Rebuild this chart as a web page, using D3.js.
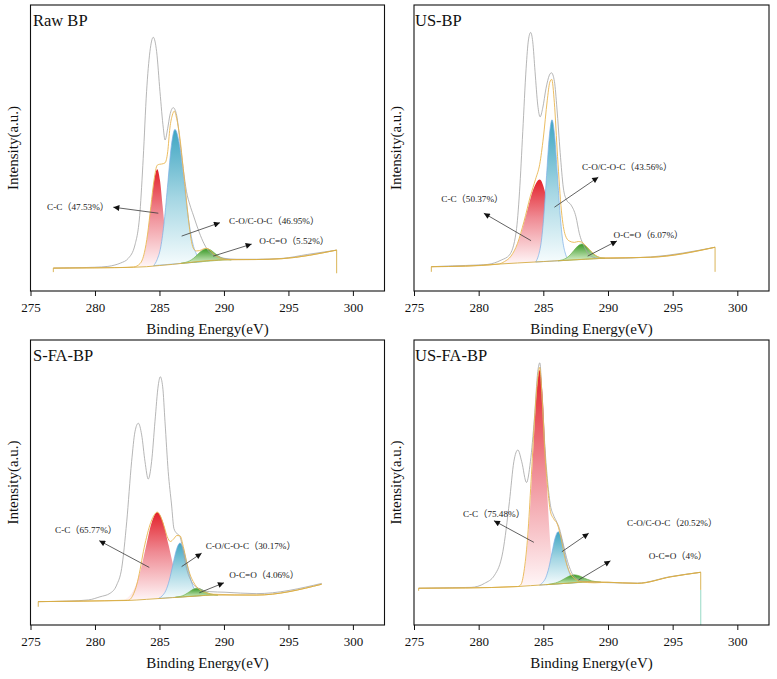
<!DOCTYPE html>
<html><head><meta charset="utf-8">
<script src="https://cdn.jsdelivr.net/npm/d3@7"></script>
<style>
body{margin:0;background:#fff}
svg{display:block}
text{font-family:"Liberation Serif","Times New Roman","Noto Sans CJK SC",serif}
</style>
</head><body>
<svg id="chart" width="777" height="679"></svg>
<script>
// ---------------- DATA ----------------
const xTicks = [275, 280, 285, 290, 295, 300];
const panelTitles = ["Raw BP", "US-BP", "S-FA-BP", "US-FA-BP"];
const xAxisTitle = "Binding Energy(eV)";
const yAxisTitle = "Intensity(a.u.)";

// Panel 1: Raw BP  ([eV, intensity])
const rawP1 = [[276.77,8.0],[278,8.1],[280,8.3],[281,8.6],[281.55,9.1],[282.0,9.8],[282.58,11.4],[283.1,16.1],[283.49,27.7],[283.74,46.4],[284.0,69.7],[284.26,83.7],[284.52,88.7],[284.78,83.7],[285.04,69.7],[285.3,56.9],[285.43,52.8],[285.64,56.9],[285.81,61.5],[286.07,64.1],[286.33,61.5],[286.59,52.2],[286.84,42.9],[287.1,34.7],[287.36,30.1],[287.62,26.6],[287.88,23.1],[288.27,18.4],[288.66,14.9],[289.17,12.6],[290.08,11.4],[291,11.1],[292.5,11.1],[294.5,11.4],[296.5,12.8],[298.74,14.3]];
const envP1 = [[276.77,8.0],[280,8.1],[282,8.2],[283,8.4],[283.5,9.6],[283.83,13.4],[284.08,19.9],[284.33,29.5],[284.58,38.8],[284.83,44.0],[285.0,44.3],[285.17,44.4],[285.43,44.8],[285.64,48.7],[285.81,57.0],[286.0,61.5],[286.15,62.9],[286.33,60.4],[286.59,53.4],[286.84,42.9],[287.05,33.6],[287.24,25.4],[287.44,18.4],[287.62,15.0],[287.85,14.0],[288.1,14.1],[288.4,14.7],[288.62,14.9],[288.9,14.4],[289.17,13.0],[289.5,12.0],[289.82,11.3],[290.3,11.0],[292.5,11.0],[294.5,11.3],[298.74,14.3]];
const baseP1 = [[276.77,8.0],[280,8.1],[283,8.3],[284,8.5],[285,8.9],[286,9.3],[287,9.8],[288,10.3],[289,10.7],[290,10.9],[292.5,11.0],[294.5,11.3],[298.74,14.3]];
const edgesP1 = [[276.77,8.0,6.6],[298.74,14.3,6.2]];
// fitted components [eV, top, bottom]
const ccP1 = [[283.33,8.42,8.42],[283.58,9.99,8.51],[283.83,13.15,8.61],[284.08,19.62,8.7],[284.33,29.19,8.79],[284.58,38.49,8.89],[284.83,42.6,8.98],[285.04,38.7,9.05],[285.25,29.5,9.13],[285.46,20.1,9.21],[285.67,13.8,9.29],[285.88,10.9,9.37],[286.09,9.44,9.44]];
const coP1 = [[284.55,8.87,8.87],[284.825,11.05,8.98],[285.1,15.4,9.08],[285.375,24.5,9.18],[285.65,37.8,9.28],[285.925,50.9,9.38],[286.2,56.5,9.48],[286.55,51.1,9.6],[286.9,38.3,9.75],[287.25,25.2,9.87],[287.6,16.35,10.0],[287.95,12.2,10.13],[288.3,10.26,10.26]];
const ocoP1 = [[286.67,9.66,9.66],[286.995,9.97,9.78],[287.32,10.49,9.9],[287.645,11.45,10.02],[287.97,12.81,10.14],[288.295,14.14,10.26],[288.62,14.78,10.38],[288.945,14.38,10.5],[289.27,13.29,10.62],[289.595,12.17,10.74],[289.92,11.44,10.85],[290.245,11.09,10.9],[290.57,10.9,10.9]];
const labelsP1 = ["C-C（47.53%）", "C-O/C-O-C（46.95%）", "O-C=O（5.52%）"];
const labelAtP1 = [[276.28,28.3],[290.4,23.6],[292.74,16.6]];
const arrowFromP1 = [[284.91,27.2],[286.72,19.2],[289.17,12.2]];
const arrowToP1 = [[281.42,29.3],[289.69,23.9],[292.15,16.4]];

// Panel 2: US-BP
const rawP2 = [[276.34,8.5],[278,8.8],[280,9.1],[280.71,9.3],[281.74,10.8],[282.38,12.6],[282.9,20.7],[283.16,34.7],[283.41,55.7],[283.67,77.9],[283.85,87.8],[284.02,90.4],[284.18,87.2],[284.36,76.7],[284.57,65.0],[284.75,60.9],[284.95,63.9],[285.21,70.9],[285.47,75.5],[285.63,76.3],[285.86,73.2],[286.05,64.0],[286.3,48.5],[286.55,36.0],[286.8,31.8],[287.14,30.1],[287.52,26.0],[287.78,20.2],[288.17,15.5],[288.6,12.4],[289.2,11.5],[290.22,11.4],[293.3,11.9],[298.28,15.3]];
const envP2 = [[276.34,8.5],[279,8.7],[281.5,9.4],[282.0,10.3],[282.5,12.2],[283.0,16.6],[283.5,24.2],[284.0,33.2],[284.4,39.1],[284.72,44.3],[285.0,53.5],[285.3,66.5],[285.5,73.0],[285.65,74.0],[285.85,66.0],[286.1,47.0],[286.4,28.0],[286.7,19.5],[287.0,17.5],[287.4,17.0],[287.7,17.3],[287.96,17.1],[288.4,15.2],[289.0,12.6],[289.5,11.6],[293.3,11.8],[298.28,15.3]];
const baseP2 = [[276.34,8.5],[279,8.7],[281.5,9.4],[283,9.8],[285,10.3],[287,10.8],[289.45,11.4],[293.3,11.8],[298.28,15.3]];
const edgesP2 = [[276.34,8.5,6.7],[298.28,15.3,6.7]];
const ccP2 = [[281.72,9.46,9.46],[282.22,10.85,9.58],[282.72,13.6,9.71],[283.22,19.19,9.83],[283.72,27.44,9.96],[284.22,35.48,10.08],[284.72,39.0,10.2],[285.07,35.69,10.29],[285.42,27.86,10.38],[285.77,19.83,10.47],[286.12,14.45,10.56],[286.47,11.91,10.64],[286.82,10.73,10.73]];
const coP2 = [[284.41,10.13,10.13],[284.62,12.35,10.18],[284.83,16.9,10.23],[285.04,26.35,10.29],[285.25,40.33,10.34],[285.46,53.96,10.39],[285.67,59.84,10.44],[285.88,54.07,10.5],[286.09,40.54,10.55],[286.3,26.66,10.6],[286.51,17.32,10.65],[286.72,12.88,10.71],[286.93,10.76,10.76]];
const ocoP2 = [[286.16,10.57,10.57],[286.46,10.88,10.64],[286.76,11.45,10.72],[287.06,12.55,10.79],[287.36,14.15,10.87],[287.66,15.7,10.94],[287.96,16.42,11.02],[288.26,15.85,11.09],[288.56,14.45,11.17],[288.86,13.0,11.24],[289.16,12.05,11.32],[289.46,11.64,11.4],[289.76,11.42,11.42]];
const labelsP2 = ["C-C（50.37%）", "C-O/C-O-C（43.56%）", "O-C=O（6.07%）"];
const labelAtP2 = [[277.11,31.1],[287.99,42.3],[290.43,18.7]];
const arrowFromP2 = [[284.05,17.6],[285.86,29.3],[288.43,12.2]];
const arrowToP2 = [[280.4,27.2],[289.25,39.8],[290.69,17.5]];

// Panel 3: S-FA-BP
const rawP3 = [[275.6,8.2],[278,8.4],[279.5,8.8],[280.39,9.9],[281.16,11.1],[281.68,14.0],[282.07,19.9],[282.46,36.2],[282.84,57.3],[283.1,67.8],[283.36,70.8],[283.62,66.7],[283.88,57.3],[284.13,51.2],[284.39,57.3],[284.65,71.3],[284.91,84.2],[285.06,87.1],[285.25,83.6],[285.43,71.3],[285.68,53.8],[285.94,42.1],[286.12,33.9],[286.33,32.2],[286.59,31.0],[286.84,25.7],[287.1,19.9],[287.49,15.2],[288.0,12.9],[288.91,11.7],[290.08,11.5],[292.5,11.0],[297.58,14.6]];
const envP3 = [[275.6,8.2],[282.58,8.7],[283.0,11.0],[283.23,14.0],[283.5,19.5],[283.75,25.7],[284.0,30.8],[284.26,35.1],[284.55,38.3],[284.83,39.6],[285.1,38.0],[285.4,34.0],[285.6,31.0],[285.85,29.3],[286.1,30.2],[286.35,31.4],[286.59,31.3],[286.85,27.5],[287.1,22.2],[287.35,18.0],[287.62,15.2],[288.14,12.3],[288.6,11.3],[289.17,10.8],[292.5,10.5],[297.58,14.3]];
const baseP3 = [[275.6,8.2],[279,8.4],[282.5,8.6],[284,9.0],[286,9.6],[288,10.2],[289.17,10.5],[292.5,10.5],[297.58,14.3]];
const edgesP3 = [[275.6,8.2,6.4]];
const ccP3 = [[282.19,8.6,8.6],[282.63,9.97,8.64],[283.07,12.86,8.77],[283.51,18.75,8.9],[283.95,27.43,9.04],[284.39,35.89,9.17],[284.83,39.6,9.3],[285.27,36.15,9.43],[285.71,27.95,9.56],[286.15,19.55,9.7],[286.59,13.92,9.83],[287.03,11.29,9.96],[287.47,10.09,10.09]];
const coP3 = [[284.94,9.33,9.33],[285.215,10.24,9.41],[285.49,12.05,9.5],[285.765,15.72,9.58],[286.04,21.13,9.66],[286.315,26.41,9.74],[286.59,28.73,9.83],[286.865,26.58,9.91],[287.14,21.46,9.99],[287.415,16.21,10.07],[287.69,12.71,10.16],[287.965,11.07,10.24],[288.24,10.32,10.32]];
const ocoP3 = [[286.23,9.72,9.72],[286.505,9.92,9.8],[286.78,10.24,9.88],[287.055,10.85,9.97],[287.33,11.69,10.05],[287.605,12.51,10.13],[287.88,12.91,10.21],[288.155,12.68,10.3],[288.43,12.02,10.38],[288.705,11.34,10.46],[288.98,10.86,10.5],[289.255,10.62,10.5],[289.53,10.5,10.5]];
const labelsP3 = ["C-C（65.77%）", "C-O/C-O-C（30.17%）", "O-C=O（4.06%）"];
const labelAtP3 = [[276.9,32.3],[288.58,26.7],[290.41,16.5]];
const arrowFromP3 = [[284.21,20.2],[286.72,20.5],[288.09,11.3]];
const arrowToP3 = [[280.33,29.6],[288.27,25.2],[290.0,14.8]];

// Panel 4: US-FA-BP
const rawP4 = [[275.36,12.9],[278,13.1],[279.42,13.2],[280.45,14.6],[281.23,17.5],[281.87,25.7],[282.38,43.3],[282.72,57.3],[283.03,61.4],[283.33,57.3],[283.7,50.0],[284.0,57.3],[284.31,72.5],[284.57,88.9],[284.73,92.0],[284.9,80.5],[285.13,62.0],[285.34,50.0],[285.55,42.0],[285.78,38.6],[286.0,36.5],[286.24,33.9],[286.5,29.2],[286.88,22.2],[287.4,16.9],[288.17,15.2],[289.72,14.9],[292.28,14.7],[294.85,17.0],[297.17,18.5]];
const envP4 = [[275.36,12.9],[279,13.0],[283.03,13.5],[283.28,14.3],[283.54,19.9],[283.8,31.6],[284.05,50.3],[284.31,71.3],[284.57,86.6],[284.72,90.4],[284.9,80.0],[285.13,59.6],[285.34,48.0],[285.55,39.8],[285.78,37.4],[286.11,35.1],[286.37,30.4],[286.68,23.4],[287.01,18.7],[287.4,16.4],[287.91,15.2],[288.94,14.8],[290,15.0],[292.28,14.6],[294.85,16.9],[297.17,18.5]];
const baseP4 = [[275.36,12.9],[279,13.0],[283.03,13.5],[284,13.8],[285,14.1],[286,14.4],[287,14.7],[288.4,15.2],[290,15.0],[292.28,14.6],[294.85,16.9],[297.17,18.5]];
const edgesP4 = [[275.36,12.9,12.0],[297.17,18.5,12.3]];
const dropP4 = [[297.17,12.3,0]];
const ccP4 = [[283.16,13.54,13.54],[283.42,16.94,13.62],[283.68,23.89,13.7],[283.94,38.31,13.77],[284.2,59.68,13.85],[284.46,80.52,13.93],[284.72,89.5,14.0],[284.945,80.66,14.07],[285.17,59.97,14.14],[285.395,38.74,14.2],[285.62,24.46,14.27],[285.845,17.66,14.34],[286.07,14.41,14.41]];
const coP4 = [[284.71,14.0,14.0],[284.95,14.89,14.08],[285.19,16.62,14.15],[285.43,20.17,14.22],[285.67,25.4,14.29],[285.91,30.5,14.36],[286.15,32.74,14.44],[286.39,30.65,14.51],[286.63,25.69,14.58],[286.87,20.6,14.65],[287.11,17.19,14.72],[287.35,15.61,14.8],[287.59,14.87,14.87]];
const ocoP4 = [[285.25,14.17,14.17],[285.6,14.39,14.27],[285.95,14.76,14.38],[286.3,15.39,14.48],[286.65,16.29,14.59],[287.0,17.16,14.69],[287.35,17.6,14.8],[287.7,17.37,14.9],[288.05,16.71,15.01],[288.4,16.02,15.11],[288.75,15.48,15.1],[289.1,15.17,15.05],[289.45,15.0,15.0]];
const labelsP4 = ["C-C（75.48%）", "C-O/C-O-C（20.52%）", "O-C=O（4%）"];
const labelAtP4 = [[278.78,37.9],[291.47,34.6],[293.15,23.2]];
const arrowFromP4 = [[284.27,29.0],[286.43,25.7],[287.72,15.8]];
const arrowToP4 = [[281.18,36.6],[288.51,32.2],[290.19,22.5]];

// ---------------- LAYOUT / STYLE ----------------
const boxes = [
  {l:30.5, r:384.5, t:5,   b:291, ylx:18},
  {l:414,  r:769,   t:5,   b:291, ylx:401},
  {l:30.5, r:384.5, t:340, b:625, ylx:18},
  {l:414,  r:769,   t:340, b:625, ylx:401}
];
const panels = [
  {raw:rawP1, env:envP1, base:baseP1, edges:edgesP1, drop:[], peaks:[ccP1,coP1,ocoP1], labels:labelsP1, at:labelAtP1, from:arrowFromP1, to:arrowToP1},
  {raw:rawP2, env:envP2, base:baseP2, edges:edgesP2, drop:[], peaks:[ccP2,coP2,ocoP2], labels:labelsP2, at:labelAtP2, from:arrowFromP2, to:arrowToP2},
  {raw:rawP3, env:envP3, base:baseP3, edges:edgesP3, drop:[], peaks:[ccP3,coP3,ocoP3], labels:labelsP3, at:labelAtP3, from:arrowFromP3, to:arrowToP3},
  {raw:rawP4, env:envP4, base:baseP4, edges:edgesP4, drop:dropP4, peaks:[ccP4,coP4,ocoP4], labels:labelsP4, at:labelAtP4, from:arrowFromP4, to:arrowToP4}
];
const peakStyles = [
  {id:"gRed",   stops:[[0,"#e3212a"],[0.45,"#ef8a93"],[1,"#fff6f7"]], stroke:"none"},
  {id:"gBlue",  stops:[[0,"#3ea5c2"],[0.5,"#a4d6e3"],[1,"#f6fcfd"]], stroke:"#7aaee6"},
  {id:"gGreen", stops:[[0,"#3a9a28"],[1,"#d8efca"]], stroke:"#72b552"}
];

const svg = d3.select("#chart");
const defs = svg.append("defs");
peakStyles.forEach(s => {
  const g = defs.append("linearGradient").attr("id", s.id)
    .attr("x1",0).attr("y1",0).attr("x2",0).attr("y2",1);
  s.stops.forEach(st => g.append("stop").attr("offset", st[0]).attr("stop-color", st[1]));
});
defs.append("marker").attr("id","arrowHead")
  .attr("viewBox","0 0 10 10").attr("refX",10).attr("refY",5)
  .attr("markerWidth",8).attr("markerHeight",6).attr("markerUnits","userSpaceOnUse")
  .attr("orient","auto")
  .append("path").attr("d","M0,0 L10,5 L0,10 Z").attr("fill","#111");

panels.forEach((p, i) => {
  const bx = boxes[i];
  const x = d3.scaleLinear().domain([275, 302.45]).range([bx.l, bx.r]);
  const y = d3.scaleLinear().domain([0, 100]).range([bx.b, bx.t]);
  const g = svg.append("g");

  g.append("rect").attr("x", bx.l).attr("y", bx.t)
    .attr("width", bx.r - bx.l).attr("height", bx.b - bx.t).attr("fill", "#fff");

  // component fills
  const area = d3.area().x(d => x(d[0])).y0(d => y(d[2])).y1(d => y(d[1])).curve(d3.curveMonotoneX);
  p.peaks.forEach((pk, k) => {
    g.append("path").datum(pk).attr("d", area)
      .attr("fill", `url(#${peakStyles[k].id})`)
      .attr("stroke", peakStyles[k].stroke).attr("stroke-width", 0.7);
  });

  const line = d3.line().x(d => x(d[0])).y(d => y(d[1])).curve(d3.curveMonotoneX);
  g.append("path").datum(p.raw).attr("d", line)
    .attr("fill","none").attr("stroke","#a3a3a3").attr("stroke-width",0.8);
  g.append("path").datum(p.env).attr("d", line)
    .attr("fill","none").attr("stroke","#e9b650").attr("stroke-width",0.9);
  g.append("path").datum(p.base).attr("d", line)
    .attr("fill","none").attr("stroke","#d6ad45").attr("stroke-width",0.9);
  p.edges.forEach(e => {
    g.append("line").attr("x1", x(e[0])).attr("x2", x(e[0]))
      .attr("y1", y(e[1])).attr("y2", y(e[2]))
      .attr("stroke","#d6ad45").attr("stroke-width",0.9);
  });
  p.drop.forEach(e => {
    g.append("line").attr("x1", x(e[0])).attr("x2", x(e[0]))
      .attr("y1", y(e[1])).attr("y2", y(e[2]))
      .attr("stroke","#a9e0cf").attr("stroke-width",1.2);
  });

  // annotations
  p.labels.forEach((lab, k) => {
    g.append("line")
      .attr("x1", x(p.from[k][0])).attr("y1", y(p.from[k][1]))
      .attr("x2", x(p.to[k][0])).attr("y2", y(p.to[k][1]))
      .attr("stroke","#3a3a3a").attr("stroke-width",0.8)
      .attr("marker-end","url(#arrowHead)");
    g.append("text").attr("x", x(p.at[k][0])).attr("y", y(p.at[k][1]))
      .attr("font-size", 9.2).attr("fill","#222").text(lab);
  });

  // frame
  g.append("rect").attr("x", bx.l).attr("y", bx.t)
    .attr("width", bx.r - bx.l).attr("height", bx.b - bx.t)
    .attr("fill","none").attr("stroke","#111").attr("stroke-width",1.1);

  // x axis
  const ax = g.append("g").attr("transform", `translate(0,${bx.b})`)
    .call(d3.axisBottom(x).tickValues(xTicks).tickSize(5).tickPadding(7).tickFormat(d3.format("d")));
  ax.attr("font-family", null);
  ax.select(".domain").remove();
  ax.selectAll(".tick line").attr("stroke","#111").attr("stroke-width",1);
  ax.selectAll(".tick text").attr("font-size",13).attr("fill","#111")
    .style("font-family",'"Liberation Serif","Times New Roman",serif');

  g.append("text").attr("x", (bx.l + bx.r) / 2).attr("y", bx.b + 43)
    .attr("text-anchor","middle").attr("font-size",15).attr("fill","#111").text(xAxisTitle);

  g.append("text").attr("transform", `translate(${bx.ylx},${(bx.t + bx.b) / 2}) rotate(-90)`)
    .attr("text-anchor","middle").attr("font-size",15).attr("fill","#111").text(yAxisTitle);

  g.append("text").attr("x", bx.l + (i % 2 === 0 ? 2.5 : 1)).attr("y", bx.t + 21)
    .attr("font-size",16.5).attr("fill","#111").text(panelTitles[i]);
});
</script>
</body></html>
